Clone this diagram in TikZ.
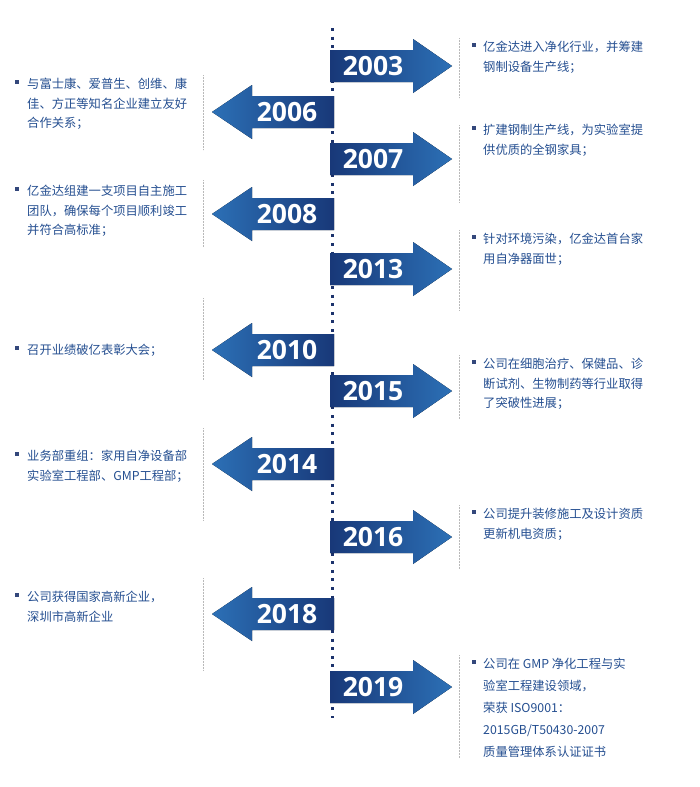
\documentclass[tikz,border=0pt]{standalone}
\usepackage{fontspec}
\newfontfamily\cjk{Noto Sans CJK SC}
\newfontfamily\yrfont{Open Sans}
\definecolor{navy}{RGB}{28,50,108}
\definecolor{arrdark}{RGB}{24,56,120}
\definecolor{arrmid}{RGB}{36,94,164}
\definecolor{arrlight}{RGB}{44,112,182}
\definecolor{txtcol}{RGB}{36,78,144}

\begin{document}
\begin{tikzpicture}[x=1pt, y=-1pt,
        yr/.style={text=white, font=\yrfont\bfseries\fontsize{26.5}{26.5}\selectfont, inner sep=0pt},
        rarr/.style={left color=arrdark, middle color=arrmid, right color=arrlight},
        larr/.style={left color=arrlight, middle color=arrmid, right color=arrdark},
        bul/.style={fill=navy!90, minimum size=4.5pt, inner sep=0pt},
        txt/.style={text=txtcol, font=\cjk\fontsize{12.3}{19.5}\selectfont, align=left, anchor=base west, inner sep=0pt},
        guide/.style={gray!55, line width=.6pt, dash pattern=on .6pt off .9pt}]

                    \useasboundingbox (0,0) rectangle (700,787);

                    % centre line
                    \coordinate (top) at (332,28);
                    \coordinate (bot) at (332,718);
                    \draw[navy, line width=3pt, dash pattern=on 3pt off 5.6pt] (top) -- (bot);

                    % dotted guides
                    \draw[guide] (459,38) -- (459,98);
                    \draw[guide] (459,125) -- (459,202);
                    \draw[guide] (459,230) -- (459,310);
                    \draw[guide] (459,355) -- (459,419);
                    \draw[guide] (459,505) -- (459,569);
                    \draw[guide] (459,655) -- (459,758);
                    \draw[guide] (203,75) -- (203,150);
                    \draw[guide] (203,180) -- (203,247);
                    \draw[guide] (203,298) -- (203,380);
                    \draw[guide] (203,428) -- (203,520);
                    \draw[guide] (203,578) -- (203,670);

                    % arrows to the right
                    \fill[rarr] (330,50) -- (413,50) -- (413,39) -- (452,66) -- (413,93) -- (413,82) -- (330,82) -- cycle;
                    \fill[rarr] (330,143) -- (413,143) -- (413,132) -- (452,159) -- (413,186) -- (413,175) -- (330,175) -- cycle;
                    \fill[rarr] (330,253) -- (413,253) -- (413,242) -- (452,269) -- (413,296) -- (413,285) -- (330,285) -- cycle;
                    \fill[rarr] (330,375) -- (413,375) -- (413,364) -- (452,391) -- (413,418) -- (413,407) -- (330,407) -- cycle;
                    \fill[rarr] (330,521) -- (413,521) -- (413,510) -- (452,537) -- (413,564) -- (413,553) -- (330,553) -- cycle;
                    \fill[rarr] (330,671) -- (413,671) -- (413,660) -- (452,687) -- (413,714) -- (413,703) -- (330,703) -- cycle;

                    % arrows to the left
                    \fill[larr] (334,96) -- (252,96) -- (252,85) -- (212,112) -- (252,139) -- (252,128) -- (334,128) -- cycle;
                    \fill[larr] (334,198) -- (252,198) -- (252,187) -- (212,214) -- (252,241) -- (252,230) -- (334,230) -- cycle;
                    \fill[larr] (334,334) -- (252,334) -- (252,323) -- (212,350) -- (252,377) -- (252,366) -- (334,366) -- cycle;
                    \fill[larr] (334,448) -- (252,448) -- (252,437) -- (212,464) -- (252,491) -- (252,480) -- (334,480) -- cycle;
                    \fill[larr] (334,598) -- (252,598) -- (252,587) -- (212,614) -- (252,641) -- (252,630) -- (334,630) -- cycle;

                    % years
                    \node[yr] (y2003) at (373,66) {2003};
                    \node[yr] (y2006) at (287,112) {2006};
                    \node[yr] (y2007) at (373,159) {2007};
                    \node[yr] (y2008) at (287,214) {2008};
                    \node[yr] (y2013) at (373,269) {2013};
                    \node[yr] (y2010) at (287,350) {2010};
                    \node[yr] (y2015) at (373,391) {2015};
                    \node[yr] (y2014) at (287,464) {2014};
                    \node[yr] (y2016) at (373,537) {2016};
                    \node[yr] (y2018) at (287,614) {2018};
                    \node[yr] (y2019) at (373,687) {2019};

                    % right column (base = baseline of the last line)
                    \node[bul] (b2003) at (474,45) {};
                    \node[txt] (t2003) at (483,71) {亿金达进入净化行业，并筹建\\钢制设备生产线；};
                    \node[bul] (b2007) at (474,128) {};
                    \node[txt] (t2007) at (483,154) {扩建钢制生产线，为实验室提\\供优质的全钢家具；};
                    \node[bul] (b2013) at (474,237) {};
                    \node[txt] (t2013) at (483,263) {针对环境污染，亿金达首台家\\用自净器面世；};
                    \node[bul] (b2015) at (474,362) {};
                    \node[txt] (t2015) at (483,407.5) {公司在细胞治疗、保健品、诊\\断试剂、生物制药等行业取得\\了突破性进展；};
                    \node[bul] (b2016) at (474,512) {};
                    \node[txt] (t2016) at (483,538) {公司提升装修施工及设计资质\\更新机电资质；};
                    \node[bul] (b2019) at (474,662) {};
                    \node[txt, font=\cjk\fontsize{12.3}{22}\selectfont] (t2019) at (483,756.5) {公司在 GMP 净化工程与实\\验室工程建设领域，\\荣获 ISO9001：\\2015GB/T50430-2007\\质量管理体系认证证书};

                    % left column
                    \node[bul] (b2006) at (17,82) {};
                    \node[txt] (t2006) at (27,127.5) {与富士康、爱普生、创维、康\\佳、方正等知名企业建立友好\\合作关系；};
                    \node[bul] (b2008) at (17,189) {};
                    \node[txt] (t2008) at (27,234.5) {亿金达组建一支项目自主施工\\团队，确保每个项目顺利竣工\\并符合高标准；};
                    \node[bul] (b2010) at (17,348) {};
                    \node[txt] (t2010) at (27,354.5) {召开业绩破亿表彰大会；};
                    \node[bul] (b2014) at (17,454) {};
                    \node[txt] (t2014) at (27,480) {业务部重组：家用自净设备部\\实验室工程部、GMP工程部；};
                    \node[bul] (b2018) at (17,595) {};
                    \node[txt] (t2018) at (27,621) {公司获得国家高新企业，\\深圳市高新企业};

                \end{tikzpicture}
\end{document}
